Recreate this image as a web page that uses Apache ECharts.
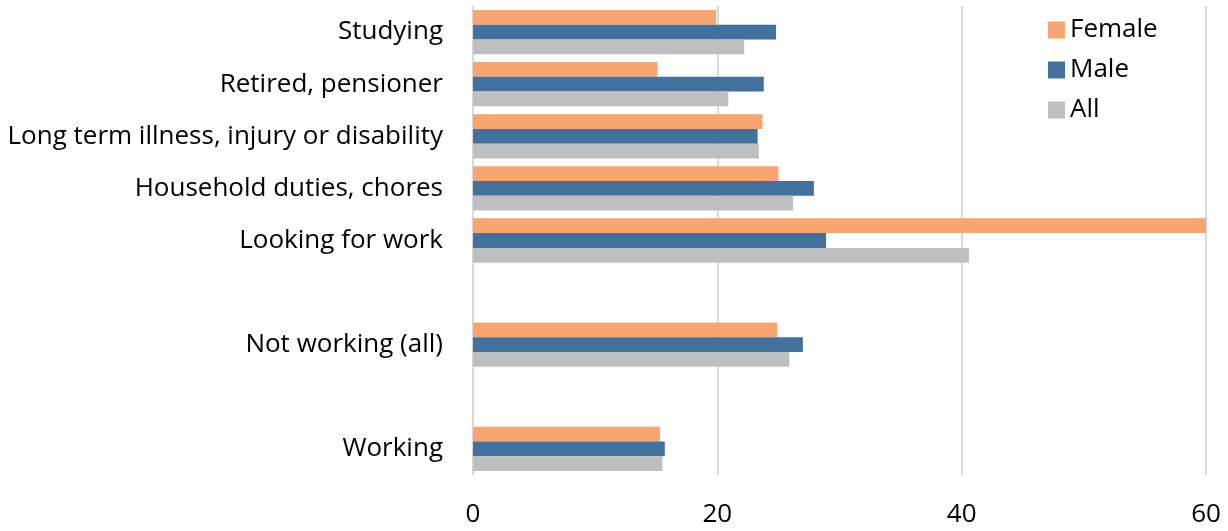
<!DOCTYPE html>
<html><head><meta charset="utf-8">
<script src="https://cdn.jsdelivr.net/npm/echarts@6/dist/echarts.min.js"></script>
<style>html,body{margin:0;padding:0;background:#fff}#c{width:1228px;height:531px}</style>
</head><body><div id="c"></div>
<script>
const categories = ['Working', ' ', 'Not working (all)', '  ', 'Looking for work', 'Household duties, chores', 'Long term illness, injury or disability', 'Retired, pensioner', 'Studying'];
const female = [15.3, null, 24.9, null, 60, 25.0, 23.7, 15.1, 19.9];
const male   = [15.7, null, 27.0, null, 28.9, 27.9, 23.3, 23.8, 24.8];
const all    = [15.5, null, 25.9, null, 40.6, 26.2, 23.4, 20.9, 22.2];
const xTicks = [0, 20, 40, 60];

const chart = echarts.init(document.getElementById('c'));
const font = 'Open Sans';
chart.setOption({
  animation: false,
  textStyle: {fontFamily: font},
  grid: {left: 473, right: 22, top: 6, bottom: 56},
  legend: {
    orient: 'vertical', left: 1043, top: 12, itemWidth: 17, itemHeight: 17, itemGap: 14,
    icon: 'rect',
    textStyle: {fontSize: 26, fontFamily: font, color: '#000'},
    data: ['Female', 'Male', 'All']
  },
  xAxis: {
    type: 'value', min: xTicks[0], max: xTicks[xTicks.length-1], interval: 20,
    axisLine: {show: false}, axisTick: {show: false},
    axisLabel: {fontSize: 26, color: '#000', margin: 27, fontFamily: font},
    splitLine: {lineStyle: {color: '#d9d9d9', width: 2}}
  },
  yAxis: {
    type: 'category', data: categories,
    axisLine: {show: false}, axisTick: {show: false},
    axisLabel: {fontSize: 26, color: '#000', margin: 30, fontFamily: font, padding: [4, 0, 0, 0]}
  },
  series: [
    {name: 'Female', type: 'bar', data: female, itemStyle: {color: '#F8A572'}, barGap: '0%', barCategoryGap: '15%'},
    {name: 'Male', type: 'bar', data: male, itemStyle: {color: '#41719C'}},
    {name: 'All', type: 'bar', data: all, itemStyle: {color: '#BFBFBF'}}
  ]
});
</script></body></html>
